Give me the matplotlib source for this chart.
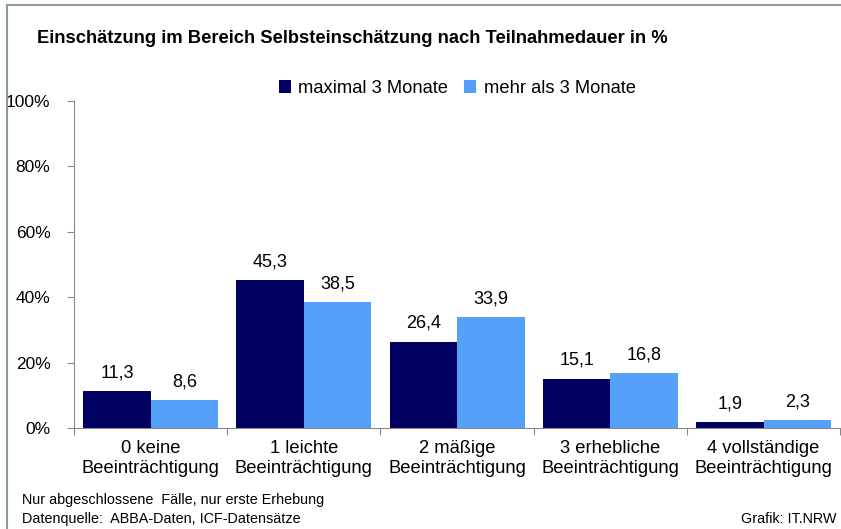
import matplotlib.pyplot as plt
import numpy as np
from matplotlib.lines import Line2D

plt.rcParams['font.family'] = ['Liberation Sans', 'DejaVu Sans']

kategorien = ['0 keine\nBeeinträchtigung', '1 leichte\nBeeinträchtigung',
              '2 mäßige\nBeeinträchtigung', '3 erhebliche\nBeeinträchtigung',
              '4 vollständige\nBeeinträchtigung']
bis_3_monate = [11.3, 45.3, 26.4, 15.1, 1.9]
ueber_3_monate = [8.6, 38.5, 33.9, 16.8, 2.3]
serien = ['maximal 3 Monate', 'mehr als 3 Monate']
farben = ['#000060', '#55a0f8']

fig = plt.figure(figsize=(8.41, 5.29), dpi=100)
ax = fig.add_axes([0.088, 0.191, 0.911, 0.618])

x = np.arange(len(kategorien))
b = 0.44
for werte, off, name, farbe in [(bis_3_monate, -b / 2, serien[0], farben[0]),
                                 (ueber_3_monate, b / 2, serien[1], farben[1])]:
    bars = ax.bar(x + off, werte, width=b, color=farbe, label=name)
    for r, v in zip(bars, werte):
        ax.annotate(f'{v:.1f}'.replace('.', ','),
                    (r.get_x() + r.get_width() / 2, v),
                    xytext=(0, 7), textcoords='offset points',
                    ha='center', va='bottom', fontsize=13)

ax.set_xlim(-0.5, len(kategorien) - 0.5)
ax.set_ylim(0, 100)
ax.set_yticks(range(0, 101, 20))
ax.set_yticklabels([f'{t}%' for t in range(0, 101, 20)], fontsize=12.5)
ax.set_xticks(np.arange(-0.5, len(kategorien)), minor=False)
ax.set_xticklabels([])
ax.set_xticks(x, minor=True)
ax.set_xticklabels(kategorien, minor=True, fontsize=13.2)
ax.tick_params(axis='x', which='minor', length=0, pad=9)
ax.tick_params(axis='x', which='major', length=5, color='#888888')
ax.tick_params(axis='y', length=5, color='#888888', pad=12)
for s in ['top', 'right']:
    ax.spines[s].set_visible(False)
for s in ['left', 'bottom']:
    ax.spines[s].set_color('#888888')

ax.legend(loc='upper center', bbox_to_anchor=(0.5, 1.115), ncol=2, frameon=False,
          fontsize=13.2, handlelength=0.65, handleheight=0.65, handletextpad=0.4,
          columnspacing=0.9)

fig.text(0.044, 0.928, 'Einschätzung im Bereich Selbsteinschätzung nach Teilnahmedauer in %',
         fontsize=13.2, fontweight='bold', va='center')
fig.text(0.026, 0.055, 'Nur abgeschlossene  Fälle, nur erste Erhebung', fontsize=10.4, va='center')
fig.text(0.026, 0.018, 'Datenquelle:  ABBA-Daten, ICF-Datensätze', fontsize=10.4, va='center')
fig.text(0.995, 0.018, 'Grafik: IT.NRW', fontsize=10.4, va='center', ha='right')

# Rahmen oben und links
fig.add_artist(Line2D([0.008, 1.0], [0.99, 0.99], color='#8a9a9a', lw=1.5))
fig.add_artist(Line2D([0.008, 0.008], [0.0, 0.99], color='#8a9a9a', lw=1.5))

fig.savefig('out.png', dpi=100)
